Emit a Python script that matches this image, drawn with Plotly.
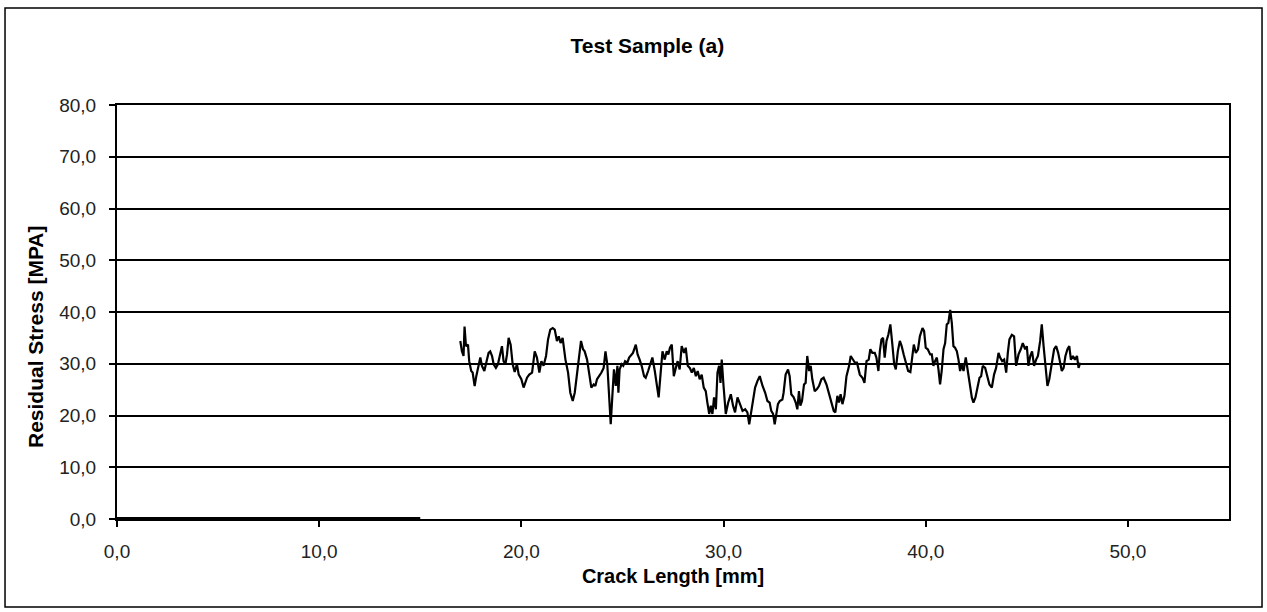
import plotly.graph_objects as go

# Zero baseline segment
zero_x = [0.0, 15.0]
zero_y = [0.0, 0.0]

# Measured residual stress
crack_mm = [
    16.98, 17.06, 17.14, 17.19, 17.26, 17.36, 17.42, 17.52, 17.59, 17.69, 17.77, 17.89, 17.97, 18.05, 18.17,
    18.30, 18.38, 18.46, 18.55, 18.63, 18.74, 18.84, 18.96, 19.04, 19.12, 19.21, 19.29, 19.37, 19.47, 19.57,
    19.67, 19.78, 19.87, 20.00, 20.11, 20.20, 20.28, 20.39, 20.53, 20.66, 20.77, 20.89, 20.99, 21.10, 21.22,
    21.32, 21.43, 21.55, 21.65, 21.76, 21.85, 21.94, 22.04, 22.18, 22.31, 22.42, 22.54, 22.64, 22.75, 22.87,
    22.95, 23.05, 23.13, 23.25, 23.36, 23.46, 23.58, 23.66, 23.74, 23.86, 23.96, 24.07, 24.16, 24.25, 24.35,
    24.42, 24.50, 24.58, 24.67, 24.75, 24.80, 24.86, 24.96, 25.04, 25.13, 25.24, 25.33, 25.41, 25.52, 25.66,
    25.75, 25.85, 25.95, 26.07, 26.15, 26.27, 26.36, 26.48, 26.60, 26.69, 26.79, 26.89, 26.98, 27.09, 27.19,
    27.27, 27.35, 27.44, 27.54, 27.64, 27.73, 27.83, 27.93, 28.05, 28.13, 28.23, 28.33, 28.43, 28.53, 28.63,
    28.72, 28.82, 28.92, 29.02, 29.12, 29.20, 29.29, 29.37, 29.45, 29.53, 29.62, 29.70, 29.78, 29.85, 29.91,
    30.00, 30.11, 30.23, 30.36, 30.47, 30.57, 30.69, 30.80, 30.94, 31.07, 31.18, 31.27, 31.36, 31.46, 31.56,
    31.68, 31.79, 31.93, 32.06, 32.17, 32.28, 32.36, 32.45, 32.53, 32.61, 32.69, 32.78, 32.91, 32.97, 33.07,
    33.19, 33.27, 33.35, 33.47, 33.57, 33.65, 33.73, 33.80, 33.88, 33.98, 34.06, 34.14, 34.23, 34.31, 34.39,
    34.51, 34.62, 34.72, 34.84, 34.95, 35.09, 35.22, 35.33, 35.45, 35.53, 35.63, 35.71, 35.79, 35.88, 35.98,
    36.08, 36.21, 36.29, 36.41, 36.50, 36.60, 36.74, 36.87, 36.97, 37.07, 37.18, 37.26, 37.36, 37.48, 37.56,
    37.66, 37.73, 37.81, 37.89, 37.97, 38.06, 38.15, 38.25, 38.35, 38.44, 38.52, 38.62, 38.72, 38.81, 38.91,
    39.01, 39.13, 39.24, 39.34, 39.41, 39.51, 39.62, 39.71, 39.84, 39.92, 40.00, 40.10, 40.22, 40.30, 40.38,
    40.46, 40.55, 40.63, 40.71, 40.79, 40.88, 40.96, 41.04, 41.12, 41.21, 41.29, 41.37, 41.45, 41.54, 41.62,
    41.70, 41.78, 41.87, 41.98, 42.06, 42.16, 42.28, 42.36, 42.46, 42.56, 42.66, 42.74, 42.82, 42.94, 43.05,
    43.15, 43.27, 43.38, 43.48, 43.60, 43.68, 43.78, 43.88, 43.98, 44.06, 44.14, 44.26, 44.37, 44.47, 44.59,
    44.70, 44.80, 44.92, 45.00, 45.08, 45.17, 45.26, 45.36, 45.46, 45.55, 45.66, 45.74, 45.83, 45.92, 46.02,
    46.11, 46.24, 46.35, 46.45, 46.55, 46.65, 46.73, 46.82, 46.91, 47.01, 47.10, 47.18, 47.28, 47.38, 47.48,
    47.56, 47.64,
]
stress_mpa = [
    34.4, 32.4, 31.5, 37.2, 33.4, 33.7, 30.5, 28.6, 28.3, 25.7, 27.6, 30.2, 31.2, 29.6, 28.6,
    30.8, 32.1, 32.4, 31.5, 29.9, 29.2, 29.9, 32.1, 33.4, 30.5, 29.9, 31.8, 35.0, 33.7, 29.9,
    28.4, 29.9, 27.9, 27.0, 25.4, 26.3, 27.3, 27.9, 28.3, 32.4, 31.2, 28.3, 30.5, 29.6, 31.5,
    34.7, 36.6, 36.9, 36.6, 34.4, 35.3, 34.0, 35.0, 30.8, 28.3, 24.4, 22.8, 24.4, 28.3, 31.5,
    34.4, 32.8, 32.4, 30.8, 27.9, 25.4, 26.0, 25.7, 27.0, 27.6, 28.3, 29.2, 32.4, 29.9, 23.8,
    18.3, 23.8, 28.9, 25.7, 29.6, 24.4, 28.9, 29.9, 29.6, 30.5, 30.2, 31.2, 31.5, 32.1, 33.7,
    31.8, 30.8, 29.6, 27.6, 27.3, 28.6, 29.6, 31.2, 28.6, 26.3, 23.5, 28.3, 32.4, 30.8, 32.4,
    31.8, 33.1, 33.7, 27.6, 29.2, 30.5, 28.9, 33.4, 32.1, 33.1, 29.6, 29.2, 28.3, 29.2, 27.6,
    28.6, 27.0, 27.9, 25.4, 24.7, 22.5, 20.3, 21.9, 20.3, 23.5, 21.2, 28.3, 29.6, 26.3, 30.8,
    25.7, 20.3, 22.5, 24.1, 21.9, 20.6, 23.5, 22.2, 20.9, 21.2, 20.6, 18.3, 20.6, 22.5, 25.4,
    26.7, 27.6, 25.7, 24.4, 22.8, 22.5, 20.9, 20.3, 18.3, 19.9, 22.2, 22.8, 23.1, 24.4, 27.9,
    28.9, 27.6, 24.1, 23.5, 22.5, 21.2, 24.7, 21.9, 22.8, 26.0, 26.3, 31.5, 28.6, 29.6, 27.0,
    24.7, 25.1, 25.7, 27.0, 27.3, 26.0, 24.1, 22.5, 20.9, 20.6, 23.8, 22.5, 24.1, 22.2, 23.8,
    27.6, 29.6, 31.5, 30.8, 30.2, 30.2, 27.9, 27.3, 26.3, 30.5, 30.8, 32.8, 32.1, 32.1, 31.2,
    28.6, 32.4, 34.7, 35.0, 31.2, 34.4, 35.6, 37.6, 33.7, 29.9, 28.9, 32.4, 34.4, 33.4, 31.8,
    30.2, 28.6, 28.4, 31.5, 33.7, 32.1, 32.8, 35.3, 36.9, 36.3, 33.1, 32.8, 31.8, 31.8, 29.6,
    30.5, 31.2, 28.9, 26.0, 28.6, 32.8, 34.0, 37.6, 37.9, 40.4, 37.9, 33.4, 33.1, 32.4, 30.8,
    28.6, 29.9, 28.6, 31.2, 29.2, 26.3, 23.5, 22.5, 23.5, 25.4, 27.3, 27.6, 29.6, 29.2, 27.6,
    26.0, 25.4, 27.9, 29.2, 32.1, 31.2, 30.5, 30.8, 28.3, 32.1, 34.7, 35.6, 35.3, 29.6, 31.8,
    32.8, 34.0, 32.8, 33.4, 29.6, 31.5, 32.4, 29.6, 30.8, 31.5, 34.4, 37.6, 33.4, 29.6, 25.7,
    27.0, 30.5, 32.8, 33.4, 32.1, 30.2, 28.6, 29.2, 31.5, 32.8, 33.4, 30.8, 31.5, 30.8, 31.5,
    29.2, 30.2,
]

x_ticks = [0, 10, 20, 30, 40, 50]
y_ticks = [0, 10, 20, 30, 40, 50, 60, 70, 80]

fig = go.Figure()
fig.add_trace(go.Scatter(x=zero_x, y=zero_y, mode="lines",
                         line=dict(color="black", width=4), showlegend=False))
fig.add_trace(go.Scatter(x=crack_mm, y=stress_mpa, mode="lines",
                         line=dict(color="black", width=2.2), showlegend=False))

font_family = "Liberation Sans, Arial, sans-serif"

fig.update_layout(
    width=1267, height=612,
    margin=dict(l=117, r=38, t=105, b=93),
    paper_bgcolor="white", plot_bgcolor="white",
    separators=", ",
    font=dict(family=font_family, size=18, color="black"),
    title=dict(text="<b>Test Sample (a)</b>", x=0.477, xref="paper", xanchor="center",
               y=1 - 46 / 612, yref="container", yanchor="middle",
               font=dict(size=21, family=font_family, color="black")),
    showlegend=False,
    shapes=[dict(type="rect", xref="paper", yref="paper",
                 x0=-0.1007, x1=1.0297, y0=-0.2126, y1=1.2343,
                 line=dict(color="black", width=1.5), layer="below")],
    annotations=[dict(text="<b>Residual Stress [MPA]</b>", textangle=-90,
                      xref="paper", yref="paper", x=(35 - 117) / 1112, y=(519 - 337) / 414,
                      xanchor="center", yanchor="middle", showarrow=False,
                      font=dict(size=21, family=font_family, color="black"))],
)
fig.update_xaxes(
    range=[0, 55], tickvals=x_ticks, tickformat=".1f",
    showgrid=False, zeroline=False,
    showline=True, linecolor="black", linewidth=2, mirror=True,
    ticks="outside", ticklen=6, tickwidth=2, tickcolor="black",
    ticklabelstandoff=8,
    tickfont=dict(size=19, color="#222"),
    title=dict(text="<b>Crack Length [mm]</b>", font=dict(size=20, color="black"), standoff=8),
)
fig.update_yaxes(
    range=[0, 80], tickvals=y_ticks, tickformat=".1f",
    showgrid=True, gridcolor="black", gridwidth=2, zeroline=False,
    showline=True, linecolor="black", linewidth=2, mirror=True,
    ticks="outside", ticklen=6, tickwidth=2, tickcolor="black",
    ticklabelstandoff=9,
    tickfont=dict(size=19, color="#222"),
)

fig.write_html("out.html")
